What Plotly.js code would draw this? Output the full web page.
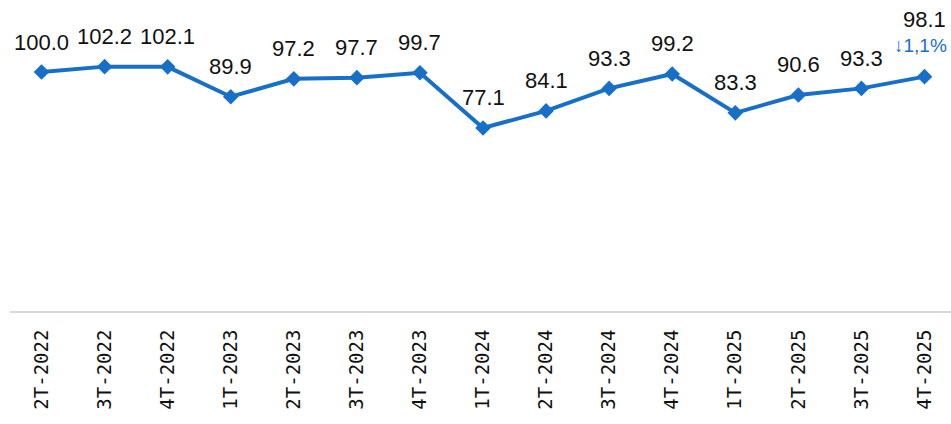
<!DOCTYPE html>
<html>
<head>
<meta charset="utf-8">
<script src="https://cdn.plot.ly/plotly-3.0.1.min.js"></script>
<style>html,body{margin:0;padding:0;background:#fff;overflow:hidden}#chart{width:951px;height:424px}</style>
</head>
<body>
<div id="chart"></div>
<script>
const quarters = ["2T-2022","3T-2022","4T-2022","1T-2023","2T-2023","3T-2023","4T-2023","1T-2024","2T-2024","3T-2024","4T-2024","1T-2025","2T-2025","3T-2025","4T-2025"];
const values = [100.0,102.2,102.1,89.9,97.2,97.7,99.7,77.1,84.1,93.3,99.2,83.3,90.6,93.3,98.1];
const changeLabel = "↓1,1%";

const blue = "#176fc8";
const n = values.length;
const labelFont = {family: "Liberation Sans, Arial, sans-serif", size: 22, color: "#111"};

const trace = {
  x: quarters, y: values, type: "scatter", mode: "lines+markers",
  line: {color: blue, width: 4},
  marker: {symbol: "diamond", size: 12, color: blue},
  cliponaxis: false, hoverinfo: "skip"
};

const annotations = values.map((v, i) => ({
  x: quarters[i], y: v, xref: "x", yref: "y", text: v.toFixed(1),
  showarrow: false, xanchor: "center", yanchor: "middle",
  yshift: i === n - 1 ? 57 : 30, font: labelFont
}));
annotations.push({
  x: quarters[n-1], y: values[n-1], xref: "x", yref: "y", text: changeLabel,
  showarrow: false, xanchor: "right", yanchor: "middle", xshift: 24, yshift: 31,
  font: {family: "Liberation Sans, Arial, sans-serif", size: 19, color: blue}
});

const layout = {
  width: 951, height: 424,
  margin: {l: 10, r: 0, t: 0, b: 113},
  paper_bgcolor: "#fff", plot_bgcolor: "#fff",
  showlegend: false,
  xaxis: {
    type: "category", range: [-0.5, 14.42],
    showgrid: false, zeroline: false,
    showline: true, linecolor: "#d9d9d9", linewidth: 2,
    ticks: "", tickangle: -90, ticklabelstandoff: 9,
    tickfont: {family: "DejaVu Sans Mono, Liberation Mono, monospace", size: 19, color: "#111"},
    automargin: false
  },
  yaxis: {
    range: [2.25, 129.45], visible: false, showgrid: false, zeroline: false, fixedrange: true
  },
  annotations: annotations
};

Plotly.newPlot("chart", [trace], layout, {staticPlot: true, displayModeBar: false});
</script>
</body>
</html>
